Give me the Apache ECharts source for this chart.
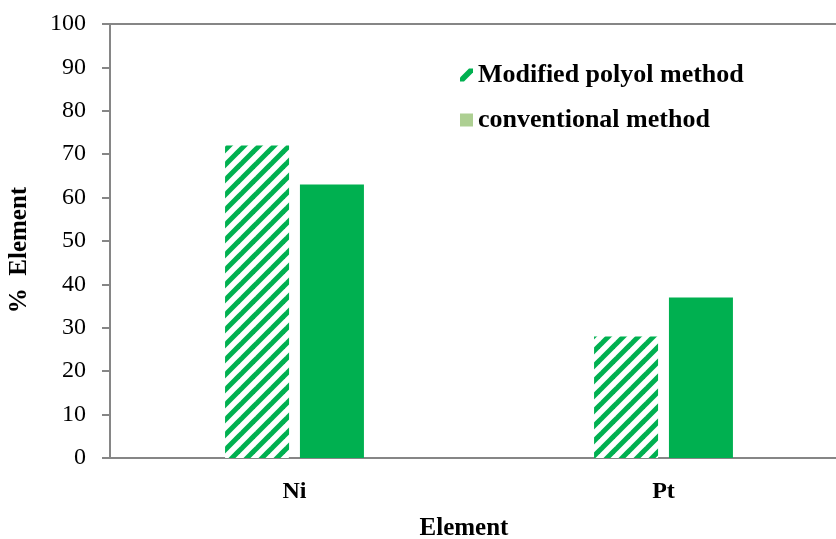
<!DOCTYPE html>
<html>
<head>
<meta charset="utf-8">
<script src="https://cdn.jsdelivr.net/npm/echarts@6/dist/echarts.min.js"></script>
<style>
  html, body { margin: 0; padding: 0; background: #fff; }
  #chart { width: 836px; height: 539px; }
</style>
</head>
<body>
<div id="chart"></div>
<script>
// Element composition (%) by preparation method
const categories = ['Ni', 'Pt'];
const seriesNames = ['Modified polyol method', 'conventional method'];
const modifiedPolyol = [72, 28];
const conventional = [63, 37];

const GREEN = '#00B050';
const LIGHT_GREEN = '#ADCF92';
const AXIS_GRAY = '#868686';
const FONT = '"Liberation Serif", "Times New Roman", serif';

// Diagonal hatch tile for the modified-polyol bars
function hatchPattern() {
  const size = 15;
  const c = document.createElement('canvas');
  c.width = size;
  c.height = size;
  const ctx = c.getContext('2d');
  ctx.fillStyle = '#fff';
  ctx.fillRect(0, 0, size, size);
  ctx.strokeStyle = GREEN;
  ctx.lineWidth = 5;
  ctx.lineCap = 'square';
  for (const k of [-size, 0, size]) {
    ctx.beginPath();
    ctx.moveTo(k, size);
    ctx.lineTo(k + size, 0);
    ctx.stroke();
  }
  return c;
}

const chart = echarts.init(document.getElementById('chart'), null, { renderer: 'canvas' });

const option = {
  backgroundColor: '#fff',
  animation: false,
  grid: {
    left: 110,
    right: -12,
    top: 24,
    bottom: 81,
    outerBoundsMode: 'none',
    containLabel: false,
    show: true,
    borderColor: AXIS_GRAY,
    borderWidth: 2,
    backgroundColor: 'transparent'
  },
  legend: {
    orient: 'vertical',
    left: 455,
    top: 57,
    itemGap: 19,
    itemWidth: 13,
    itemHeight: 13,
    textStyle: { fontFamily: FONT, fontSize: 26, fontWeight: 'bold', color: '#000' },
    data: [
      {
        name: seriesNames[0],
        icon: 'path://M0,13 L4,13 L13,4 L13,0 L9,0 L0,9 Z',
        itemStyle: { color: GREEN }
      },
      {
        name: seriesNames[1],
        icon: 'rect',
        itemStyle: { color: LIGHT_GREEN }
      }
    ]
  },
  xAxis: {
    type: 'category',
    data: categories,
    name: 'Element',
    nameLocation: 'middle',
    nameGap: 58,
    nameTextStyle: { fontFamily: FONT, fontSize: 25, fontWeight: 'bold', color: '#000', padding: [0, 30, 0, 0] },
    axisLine: { lineStyle: { color: AXIS_GRAY, width: 2 } },
    axisTick: { show: false },
    axisLabel: { fontFamily: FONT, fontSize: 24, fontWeight: 'bold', color: '#000', margin: 22 },
    splitLine: { show: false }
  },
  yAxis: {
    type: 'value',
    min: 0,
    max: 100,
    interval: 10,
    name: '%  Element',
    nameLocation: 'middle',
    nameGap: 78,
    nameRotate: 90,
    nameTextStyle: { fontFamily: FONT, fontSize: 25, fontWeight: 'bold', color: '#000', padding: [0, 18, 0, 0] },
    axisLine: { show: true, lineStyle: { color: AXIS_GRAY, width: 2 } },
    axisTick: { show: true, length: 8, lineStyle: { color: AXIS_GRAY, width: 2 } },
    axisLabel: { fontFamily: FONT, fontSize: 24, color: '#000', margin: 24 },
    splitLine: { show: false }
  },
  series: [
    {
      name: seriesNames[0],
      type: 'bar',
      data: modifiedPolyol,
      barWidth: 64,
      barGap: '17%',
      itemStyle: { color: { image: hatchPattern(), repeat: 'repeat' } }
    },
    {
      name: seriesNames[1],
      type: 'bar',
      data: conventional,
      barWidth: 64,
      itemStyle: { color: GREEN }
    }
  ]
};

chart.setOption(option);
</script>
</body>
</html>
